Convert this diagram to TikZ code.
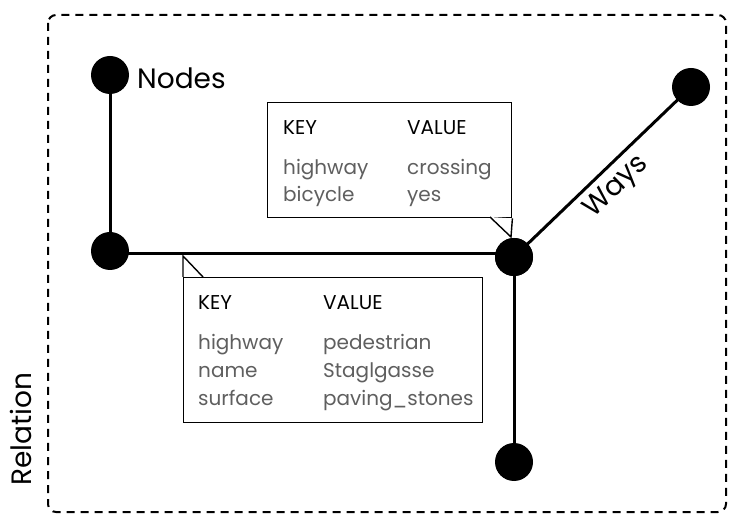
\documentclass[tikz,border=0pt]{standalone}
\usepackage{fontspec}
\setmainfont{Poppins}
\definecolor{tagtext}{RGB}{95,95,95}
\begin{document}
\begin{tikzpicture}[x=1pt,y=-1pt,
  dot/.style={circle,fill=black,minimum size=38pt,inner sep=0pt},
  way/.style={line width=3pt},
  tagbox/.style={draw,fill=white,line width=1.4pt,inner sep=0pt,anchor=north west},
  callout/.style={line width=1.4pt,fill=white},
  head/.style={anchor=base west,inner sep=0pt,font=\fontsize{20}{24}\selectfont},
  val/.style={head,text=tagtext},
  bigtext/.style={inner sep=0pt,font=\fontsize{28}{32}\selectfont}]
\useasboundingbox (0,0) rectangle (731,518);

% relation frame
\draw[line width=2pt,dash pattern=on 8pt off 6pt,rounded corners=8pt]
  (48,15) rectangle (726,512);
\node[bigtext,rotate=90] (relation) at (21,429) {Relation};

% OSM nodes
\node[dot] (n1) at (110,75) {};
\node[dot] (n2) at (110,251) {};
\node[dot] (n3) at (514,257) {};
\node[dot] (n4) at (691,87) {};
\node[dot] (n5) at (514,462) {};

% ways
\coordinate (row) at (0,254);
\draw[way] (n1.center) |- (row -| n3.center);
\draw[way] (n3.center) -- (n4.center)
  node[pos=0.5,sloped,anchor=north,inner sep=6pt,font=\fontsize{28}{32}\selectfont] (ways) {Ways};
\draw[way] (n3.center) -- (n5.center);

\node[bigtext,anchor=base west] (nodes) at (137,89) {Nodes};

% tag box of the crossing
\node[tagbox,minimum width=244pt,minimum height=115pt] (tag1) at (267,102) {};
\coordinate (tip1) at (511,237);
\coordinate (base1) at (490,217);
\draw[callout] (tag1.south east) -- (tip1) -- (base1);
\node[head] (k1) at (283,135) {KEY};
\node[head] (v1) at (407,135) {VALUE};
\node[val] (k1a) at (283,175) {highway};
\node[val] (v1a) at (407,175) {crossing};
\node[val] (k1b) at (283,202) {bicycle};
\node[val] (v1b) at (407,202) {yes};

% tag box of the street
\node[tagbox,minimum width=299pt,minimum height=145pt] (tag2) at (183,277) {};
\coordinate (tip2) at (183,256);
\coordinate (base2) at (203,277);
\draw[callout] (tag2.north west) -- (tip2) -- (base2);
\node[head] (k2) at (198,310) {KEY};
\node[head] (v2) at (323,310) {VALUE};
\node[val] (k2a) at (198,350) {highway};
\node[val] (v2a) at (323,350) {pedestrian};
\node[val] (k2b) at (198,378) {name};
\node[val] (v2b) at (323,378) {Staglgasse};
\node[val] (k2c) at (198,406) {surface};
\node[val] (v2c) at (323,406) {paving\_stones};

% junction node drawn over the pointer
\node[dot] (n3top) at (n3) {};
\end{tikzpicture}
\end{document}
